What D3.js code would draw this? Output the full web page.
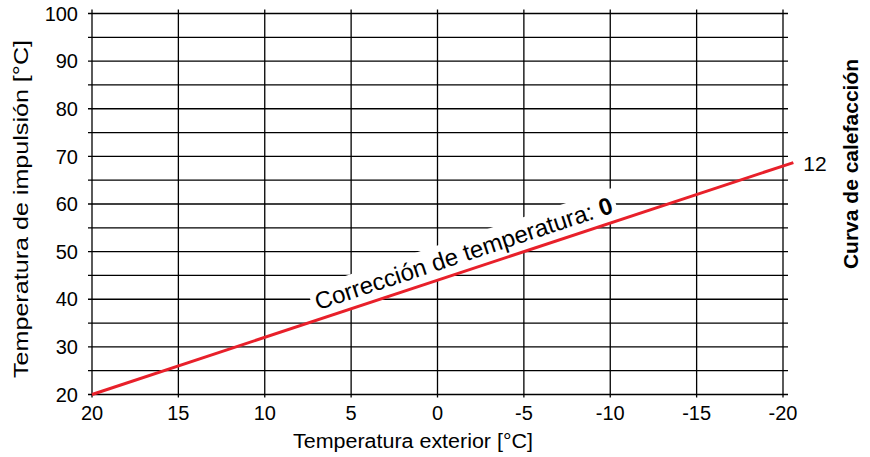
<!DOCTYPE html>
<html><head><meta charset="utf-8">
<script src="https://cdn.jsdelivr.net/npm/d3@7"></script>
<style>body{margin:0;background:#fff}svg{display:block;font-family:"Liberation Sans",Arial,sans-serif}</style>
</head><body><svg id="c" width="870" height="457"></svg>
<script>
const xTicks = [20, 15, 10, 5, 0, -5, -10, -15, -20];
const yTicks = [20, 30, 40, 50, 60, 70, 80, 90, 100];
const yGrid = [20, 25, 30, 35, 40, 45, 50, 55, 60, 65, 70, 75, 80, 85, 90, 95, 100];
const outdoorTemp = [20, -20.6];
const supplyTemp = [20, 68.7];
const curveLabel = "12";
const correctionValue = "0";

const svg = d3.select("#c");
const x = d3.scaleLinear().domain([20, -20]).range([92, 783]);
const y = d3.scaleLinear().domain([20, 100]).range([394.5, 13.5]);

const g = svg.append("g");
g.selectAll(".hg").data(yGrid).join("line")
  .attr("x1", x(20) - 4).attr("x2", x(-20) + 5)
  .attr("y1", d => y(d)).attr("y2", d => y(d))
  .attr("stroke", "#000").attr("stroke-width", 1.3);
g.selectAll(".vg").data(xTicks).join("line")
  .attr("x1", d => x(d)).attr("x2", d => x(d))
  .attr("y1", y(100) - 4).attr("y2", y(20) + 3)
  .attr("stroke", "#000").attr("stroke-width", 1.3);

g.selectAll(".yl").data(yTicks).join("text")
  .attr("x", 78).attr("y", d => y(d)).attr("dy", "0.36em")
  .attr("text-anchor", "end").attr("font-size", 20).text(d => d);
g.selectAll(".xl").data(xTicks).join("text")
  .attr("x", d => x(d)).attr("y", 420)
  .attr("text-anchor", "middle").attr("font-size", 20).text(d => d);

svg.append("text").attr("x", 293).attr("y", 448)
  .attr("font-size", 20).attr("textLength", 240).attr("lengthAdjust", "spacingAndGlyphs")
  .text("Temperatura exterior [°C]");
svg.append("text").attr("transform", "translate(28,378) rotate(-90)")
  .attr("font-size", 20).attr("textLength", 338).attr("lengthAdjust", "spacingAndGlyphs")
  .text("Temperatura de impulsión [°C]");
svg.append("text").attr("transform", "translate(858,164) rotate(-90)").attr("text-anchor", "middle")
  .attr("font-size", 21).attr("font-weight", "bold").text("Curva de calefacción");

// label along line
const slope = (y(supplyTemp[1]) - y(supplyTemp[0])) / (x(outdoorTemp[1]) - x(outdoorTemp[0]));
const ang = Math.atan(slope) * 180 / Math.PI;
const t0 = 6.75;
const lineAt = v => supplyTemp[0] + (v - outdoorTemp[0]) * (supplyTemp[1] - supplyTemp[0]) / (outdoorTemp[1] - outdoorTemp[0]);
const lg = svg.append("g").attr("transform", `translate(${x(t0)},${y(lineAt(t0))}) rotate(${ang})`);
const bg = lg.append("rect").attr("fill", "#fff");
const lt = lg.append("text").attr("x", 0).attr("y", -9).attr("font-size", 24);
lt.append("tspan").text("Corrección de temperatura: ");
lt.append("tspan").attr("font-weight", "bold").text(correctionValue);
const bb = lt.node().getBBox();
bg.attr("x", bb.x - 4).attr("y", bb.y - 2).attr("width", bb.width + 8).attr("height", -bb.y + 2);

const line = d3.line().x(d => x(d[0])).y(d => y(d[1]));
svg.append("path").datum(outdoorTemp.map((d, i) => [d, supplyTemp[i]]))
  .attr("d", line).attr("fill", "none").attr("stroke", "#e8202a").attr("stroke-width", 3);

svg.append("text").attr("x", x(outdoorTemp[1]) + 10).attr("y", y(supplyTemp[1]) + 8)
  .attr("font-size", 21).text(curveLabel);
</script></body></html>
